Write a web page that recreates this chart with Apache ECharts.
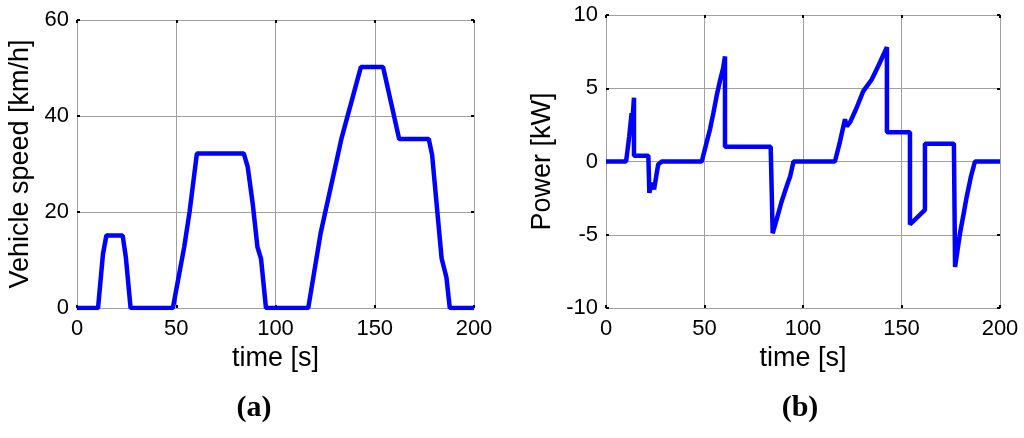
<!DOCTYPE html>
<html>
<head>
<meta charset="utf-8">
<script src="https://cdn.jsdelivr.net/npm/echarts@6/dist/echarts.min.js"></script>
<style>html,body{margin:0;padding:0;background:#fff}#c{width:1024px;height:438px}</style>
</head>
<body>
<div id="c"></div>
<script>
// Panel (a): vehicle speed [km/h] vs time [s]
var speedTime = [0, 10.6, 13.1, 14.8, 23.0, 24.6, 27.0, 48.3, 54.0, 56.7, 60.4, 84.0, 86.0, 88.5, 90.9, 92.7, 95.2, 116.5, 122.7, 133.3, 143.0, 154.2, 162.3, 177.2, 178.9, 183.7, 186.1, 187.8, 200];
var speedVal  = [0, 0, 11.3, 15.1, 15.1, 10.6, 0, 0, 12.7, 20.0, 32.2, 32.2, 29.4, 21.8, 12.7, 10.3, 0, 0, 15.5, 35.4, 50.2, 50.2, 35.2, 35.2, 31.9, 10.3, 6.4, 0, 0];
// Panel (b): power [kW] vs time [s]
var powerTime = [0, 10.2, 11.8, 13.0, 13.5, 14.2, 14.2, 21.5, 22.0, 23.2, 24.4, 26.5, 28.3, 48.6, 50.5, 52.8, 54.5, 56.2, 58.0, 59.5, 60.4, 60.4, 83.6, 84.6, 86.6, 89.0, 91.7, 93.5, 95.2, 116.2, 118.5, 121.3, 122.2, 124.0, 127.0, 130.6, 134.9, 138.5, 142.6, 142.6, 154.3, 154.3, 161.9, 161.9, 176.6, 177.2, 178.5, 179.7, 181.5, 183.1, 185.3, 187.3, 200];
var powerVal  = [0, 0, 1.73, 3.3, 2.9, 4.36, 0.4, 0.4, -2.14, -1.46, -1.9, -0.2, 0, 0, 1.0, 2.2, 3.3, 4.5, 5.6, 6.4, 7.17, 1.0, 1.0, -4.9, -3.97, -2.8, -1.69, -1.0, 0, 0, 1.2, 2.88, 2.4, 2.7, 3.6, 4.8, 5.6, 6.6, 7.8, 2.0, 2.0, -4.3, -3.3, 1.22, 1.22, -7.2, -6.0, -4.9, -3.6, -2.4, -1.0, 0, 0];

function pairs(xs, ys){ return xs.map(function(x,i){ return [x, ys[i]]; }); }

var FONT = '"Liberation Sans", Arial, sans-serif';
var gridColor = '#a0a0a0';
var tickStyle = {show:true, inside:true, length:3, lineStyle:{color:'#000', width:2}};

function xAx(g, show){
  return {
    type:'value', gridIndex:g, min:0, max:200, interval:50,
    position: show ? 'bottom' : 'top',
    name: show ? 'time [s]' : '', nameLocation:'middle', nameGap:35,
    nameTextStyle:{fontFamily:FONT, fontSize:27, color:'#000'},
    axisLine:{show:true, onZero:false, lineStyle:{color:gridColor, width:1}},
    axisTick: tickStyle,
    axisLabel:{show:show, margin:10, fontFamily:FONT, fontSize:22, color:'#000'},
    splitLine:{show:show, lineStyle:{color:gridColor, width:1}}
  };
}
function yAx(g, show, min, max, interval, name, gap){
  return {
    type:'value', gridIndex:g, min:min, max:max, interval:interval,
    position: show ? 'left' : 'right',
    name: show ? name : '', nameLocation:'middle', nameGap:gap,
    nameTextStyle:{fontFamily:FONT, fontSize:27, color:'#000'},
    axisLine:{show:true, onZero:false, lineStyle:{color:gridColor, width:1}},
    axisTick: tickStyle,
    axisLabel:{show:show, margin:8, fontFamily:FONT, fontSize:22, color:'#000'},
    splitLine:{show:show, lineStyle:{color:gridColor, width:1}}
  };
}

var chart = echarts.init(document.getElementById('c'), null, {renderer:'canvas'});
chart.setOption({
  backgroundColor:'#fff',
  animation:false,
  grid:[
    {left:77, top:20, width:397, height:288},
    {left:606, top:15, width:394, height:293}
  ],
  xAxis:[ xAx(0,true), xAx(0,false), xAx(1,true), xAx(1,false) ],
  yAxis:[
    yAx(0,true,0,60,20,'Vehicle speed [km/h]',43),
    yAx(0,false,0,60,20,'',0),
    yAx(1,true,-10,10,5,'Power [kW]',50),
    yAx(1,false,-10,10,5,'',0)
  ],
  series:[
    {type:'line', xAxisIndex:0, yAxisIndex:0, data:pairs(speedTime, speedVal), showSymbol:false,
     lineStyle:{color:'#0000ff', width:4.5}, z:5},
    {type:'line', xAxisIndex:2, yAxisIndex:2, data:pairs(powerTime, powerVal), showSymbol:false,
     lineStyle:{color:'#0000ff', width:4.5}, z:5}
  ],
  graphic:[
    {type:'text', x:254, y:408, style:{text:'(a)', align:'center', verticalAlign:'middle', font:'bold 30px "Liberation Serif", "Times New Roman", serif', fill:'#000'}},
    {type:'text', x:800, y:408, style:{text:'(b)', align:'center', verticalAlign:'middle', font:'bold 30px "Liberation Serif", "Times New Roman", serif', fill:'#000'}}
  ]
});
</script>
</body>
</html>
